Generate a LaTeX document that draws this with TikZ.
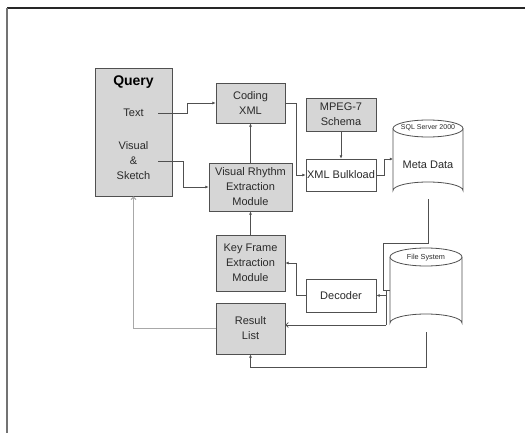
\documentclass[tikz,border=0pt]{standalone}
\usepackage{fontspec}
\setmainfont{Liberation Sans}
\usetikzlibrary{arrows.meta}
\definecolor{boxfill}{HTML}{D6D6D6}
\definecolor{edge}{HTML}{505050}
\definecolor{ink}{HTML}{2A2A2A}
\definecolor{lite}{HTML}{A8A8A8}
\begin{document}
\begin{tikzpicture}[x=1pt,y=-1pt,
  every node/.style={text=ink},
  graybox/.style={draw=edge, fill=boxfill, line width=0.8pt, inner sep=0pt,
    align=center, font=\fontsize{11}{15}\selectfont},
  whitebox/.style={graybox, fill=white},
  wire/.style={draw=edge, line width=0.7pt},
  link/.style={wire, -{Latex[length=3.2pt,width=3pt]}},
  openlink/.style={wire, -{Straight Barb[length=2.5pt,width=5pt]}},
  lbl/.style={font=\fontsize{11}{15}\selectfont, align=center, inner sep=0pt}]
\useasboundingbox (0,0) rectangle (525,433);
% frame edges
\draw[line width=1.2pt, black!85] (525,8) -- (7,8);
\draw[line width=1.6pt, black!55] (7,8) -- (7,433);

% query panel
\node[graybox, minimum width=77pt, minimum height=128pt] (query) at (133.5,132) {};
\node[font=\fontsize{14}{16}\selectfont\bfseries, text=black] (qtitle) at (133.5,82) {Query};
\node[lbl] (qtext) at (133.5,113) {Text};
\node[lbl] (qvis) at (133.5,161) {Visual\\\&\\Sketch};
\coordinate (textout) at (158,113);
\coordinate (visout) at (158,161);

% processing blocks
\node[graybox, minimum width=69pt, minimum height=40pt] (coding) at (250.5,103) {Coding\\XML};
\node[graybox, minimum width=83pt, minimum height=48pt] (vr) at (250.5,187) {Visual Rhythm\\Extraction\\Module};
\node[graybox, minimum width=69pt, minimum height=56pt] (kf) at (250.5,263) {Key Frame\\Extraction\\Module};
\node[graybox, minimum width=69pt, minimum height=51pt] (result) at (250.5,328.5) {Result\\List};
\node[graybox, minimum width=70pt, minimum height=33pt] (mpeg) at (341,114.5) {MPEG-7\\Schema};
\node[whitebox, minimum width=70pt, minimum height=32pt] (bulk) at (341,175) {XML Bulkload};
\node[whitebox, minimum width=70pt, minimum height=33pt] (dec) at (341,295.5) {Decoder};

% Meta Data cylinder
\draw[edge, line width=0.8pt, fill=white]
  (393,128.5) -- (393,190.5) arc[start angle=180, end angle=360, x radius=35pt, y radius=-8.5pt]
  -- (463,128.5);
\draw[edge, line width=0.8pt, fill=white] (428,128.5) ellipse[x radius=35pt, y radius=8.5pt];
\node[font=\fontsize{7}{8}\selectfont] (sql) at (428,128) {SQL Server 2000};
\node[lbl] (meta) at (428,165) {Meta Data};
\coordinate (metain) at (393,159);
\coordinate (metaout) at (428,199);

% File System cylinder
\draw[edge, line width=0.8pt, fill=white]
  (390,257) -- (390,323) arc[start angle=180, end angle=360, x radius=36pt, y radius=-9pt]
  -- (462,257);
\draw[edge, line width=0.8pt, fill=white] (426,257) ellipse[x radius=36pt, y radius=9pt];
\node[font=\fontsize{7.3}{8}\selectfont] (fs) at (426,258) {File System};
\coordinate (fsside) at (390,290);
\coordinate (fsout) at (426,332);

% junction beside the decoder
\coordinate (jtop) at (386,290);
\coordinate (jdec) at (386,295.5);
\coordinate (jlow) at (386,325);

% connectors
\draw[link] (textout) -- (187,113) -- (187,103) -- (coding.west);
\draw[link] (visout) -- (183,161) -- (183,187) -- (vr.west);
\draw[link] (vr.north) -- (coding.south);
\draw[link] (coding.east) -- (296,103) -- (296,175) -- (bulk.west);
\draw[link] (mpeg.south) -- (bulk.north);
\draw[link] (bulk.east) -- (384,175) -- (384,159) -- (metain);
\draw[wire] (metaout) -- (428,243) -- (383,243) -- (383,290) -- (fsside);
\draw[wire] (jtop) -- (jlow);
\draw[link] (jdec) -- (dec.east);
\draw[openlink] (jlow) -- (result.east |- jlow);
\draw[link] (dec.west) -- (296,295.5) -- (296,263) -- (kf.east);
\draw[link] (kf.north) -- (vr.south);
\draw[draw=lite, line width=1pt, -{Straight Barb[length=2.5pt,width=5pt]}]
  (result.west) -- (133.5,328.5) -- (query.south);
\draw[link] (fsout) -- (426,367) -- (250.5,367) -- (result.south);
\end{tikzpicture}
\end{document}
